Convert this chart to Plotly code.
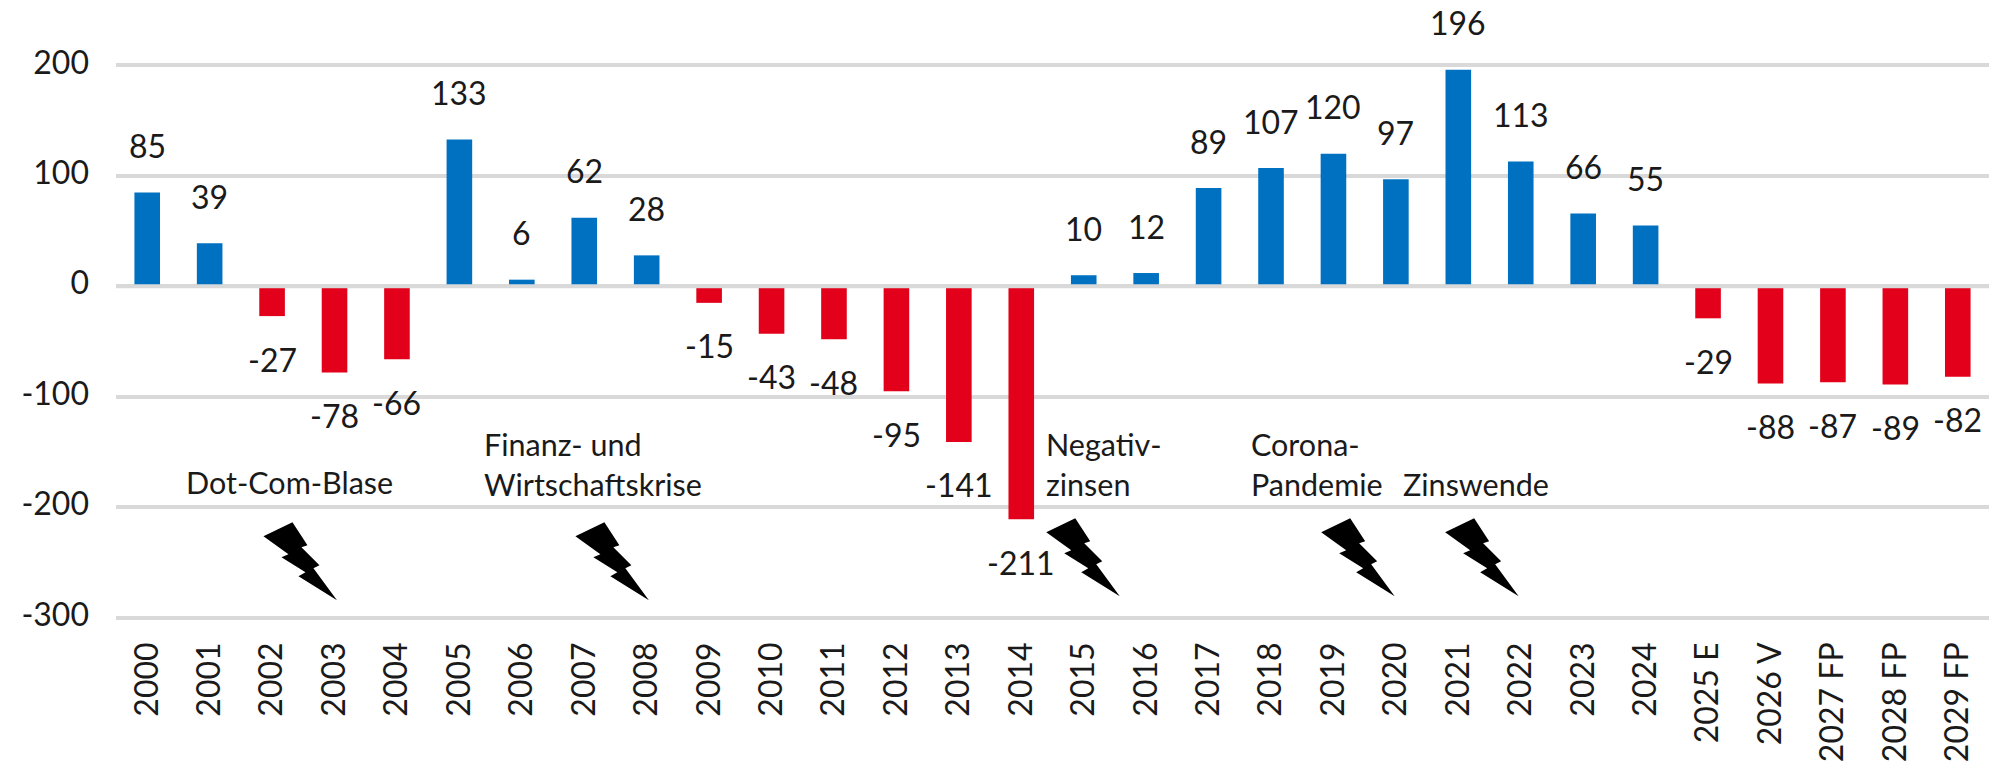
import plotly.graph_objects as go

categories = ["2000","2001","2002","2003","2004","2005","2006","2007","2008","2009","2010","2011","2012","2013","2014","2015","2016","2017","2018","2019","2020","2021","2022","2023","2024","2025 E","2026 V","2027 FP","2028 FP","2029 FP"]
values = [85,39,-27,-78,-66,133,6,62,28,-15,-43,-48,-95,-141,-211,10,12,89,107,120,97,196,113,66,55,-29,-88,-87,-89,-82]
y_ticks = [-300,-200,-100,0,100,200]
BLUE, RED, GRID, INK = "#0070C0", "#E2001A", "#D9D9D9", "#1A1A1A"
FONT = "Lato"
W, H = 1991, 771
L, R = 115.5, 1989
Y_MIN, Y_MAX = -304, 204
T, B = 65 - 4*1.105, 617.5 + 4*1.105

events = [("Dot-Com-Blase",184,482),("Finanz- und<br>Wirtschaftskrise",481.5,464),("Negativ-<br>zinsen",1043.5,464),("Corona-<br>Pandemie",1248.5,464),("Zinswende",1400.5,484)]
bolts = [(263,522),(575,522),(1046,518),(1321,518),(1445,518)]
BOLT = [(0,14),(29,0),(44,23),(38,25),(56,43),(50,46),(73.5,78),(35,54),(42,50),(18,35),(25,32)]

fig = go.Figure(go.Bar(x=categories, y=values, width=0.41,
    marker=dict(color=[BLUE if v >= 0 else RED for v in values], line_width=0)))
for i, v in enumerate(values):
    fig.add_annotation(x=i, y=v, text=str(v), showarrow=False, yshift=47 if v >= 0 else -43,
                       font=dict(family=FONT, size=32, color=INK))
for text, x, y in events:
    fig.add_annotation(xref="paper", yref="paper", x=(x-L)/(R-L), y=(B-y)/(B-T), text=text, showarrow=False,
                       xanchor="left", yanchor="middle", align="left", font=dict(family=FONT, size=30.5, color=INK))
path = "M" + " L".join(f"{a},{-b}" for a, b in BOLT) + " Z"
for x, y in bolts:
    fig.add_shape(type="path", xref="paper", yref="paper", xsizemode="pixel", ysizemode="pixel",
                  xanchor=(x-L)/(R-L), yanchor=(B-y)/(B-T), path=path, fillcolor="black", line_width=0)
fig.add_shape(type="line", xref="paper", yref="y", x0=0, x1=1, y0=0, y1=0, line=dict(color=GRID, width=4), layer="above")
fig.update_layout(width=W, height=H, margin=dict(l=L, r=W-R, t=T, b=H-B, pad=0), paper_bgcolor="white", plot_bgcolor="white",
    showlegend=False, font=dict(family=FONT, size=32, color=INK))
fig.update_xaxes(type="category", categoryorder="array", categoryarray=categories, range=[-0.5,29.5], tickmode="array", tickvals=categories, ticktext=categories, tickangle=-90, showgrid=False, ticks="", ticklabelstandoff=13, tickfont=dict(family=FONT, size=32, color=INK), zeroline=False)
fig.update_yaxes(range=[Y_MIN,Y_MAX], tickvals=y_ticks, ticktext=[str(t) for t in y_ticks], showgrid=True, gridcolor=GRID, gridwidth=4, zeroline=False, ticks="", ticklabelstandoff=26, ticklabelshift=-3, tickfont=dict(family=FONT, size=32, color=INK))
fig.write_html("out.html", config={"displayModeBar": False}, post_script="document.body.style.margin='0';document.documentElement.style.overflow='hidden';")
